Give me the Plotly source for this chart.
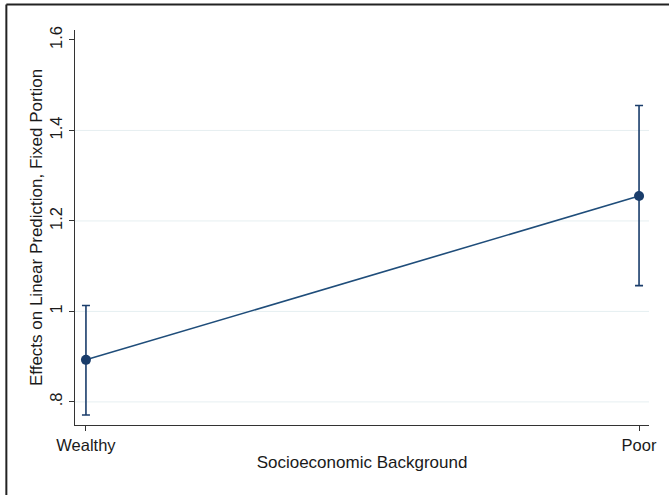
import plotly.graph_objects as go

# Predicted margins by socioeconomic background with 95% CIs
categories = ["Wealthy", "Poor"]
estimates = [0.893, 1.255]
ci_upper = [1.013, 1.455]
ci_lower = [0.771, 1.057]

y_ticks = [0.8, 1.0, 1.2, 1.4, 1.6]
y_tick_labels = [".8", "1", "1.2", "1.4", "1.6"]

x_pos = list(range(len(categories)))
err_plus = [u - e for u, e in zip(ci_upper, estimates)]
err_minus = [e - l for e, l in zip(estimates, ci_lower)]

navy = "#1a3d6b"
font_family = "Liberation Sans, Arial, Helvetica, sans-serif"

fig = go.Figure()
fig.add_trace(go.Scatter(
    x=x_pos, y=estimates,
    mode="lines+markers",
    line=dict(color="#1f4d7a", width=1.6),
    marker=dict(color=navy, size=10),
    error_y=dict(type="data", symmetric=False, array=err_plus, arrayminus=err_minus,
                 color=navy, thickness=1.6, width=4),
    showlegend=False,
    hoverinfo="skip",
))

# light horizontal grid at the inner ticks
shapes = []
for v in y_ticks[:-1]:
    shapes.append(dict(type="line", xref="paper", yref="y", x0=0, x1=1, y0=v, y1=v,
                       line=dict(color="#e6eff1", width=1), layer="below"))

# outer frame along the top and left edges of the page
shapes.append(dict(type="line", xref="paper", yref="paper", x0=-0.1196, x1=1.05,
                   y0=1.0646, y1=1.0646, line=dict(color="#222222", width=2)))
shapes.append(dict(type="line", xref="paper", yref="paper", x0=-0.1196, x1=-0.1196,
                   y0=1.0646, y1=-0.2, line=dict(color="#222222", width=2)))

fig.update_layout(
    width=669, height=495,
    margin=dict(l=75, r=17, t=30, b=70),
    paper_bgcolor="white", plot_bgcolor="white",
    font=dict(family=font_family, size=17, color="#1a1a1a"),
    shapes=shapes,
    xaxis=dict(
        range=[-0.0198, 1.018],
        tickvals=x_pos, ticktext=categories,
        showgrid=False, zeroline=False,
        showline=True, linecolor="#333333", linewidth=1.3,
        ticks="outside", ticklen=5, tickcolor="#333333", tickwidth=1.2,
        tickfont=dict(size=16.5),
        title=dict(text="Socioeconomic Background", font=dict(size=17), standoff=3),
    ),
    yaxis=dict(
        range=[0.749, 1.622],
        tickvals=y_ticks, ticktext=y_tick_labels, tickangle=-90,
        showgrid=False, zeroline=False,
        showline=True, linecolor="#333333", linewidth=1.3,
        ticks="outside", ticklen=5, tickcolor="#333333", tickwidth=1.2,
        tickfont=dict(size=16.5),
        title=dict(text="Effects on Linear Prediction, Fixed Portion", font=dict(size=17), standoff=0),
    ),
)

fig.write_html("out.html")
